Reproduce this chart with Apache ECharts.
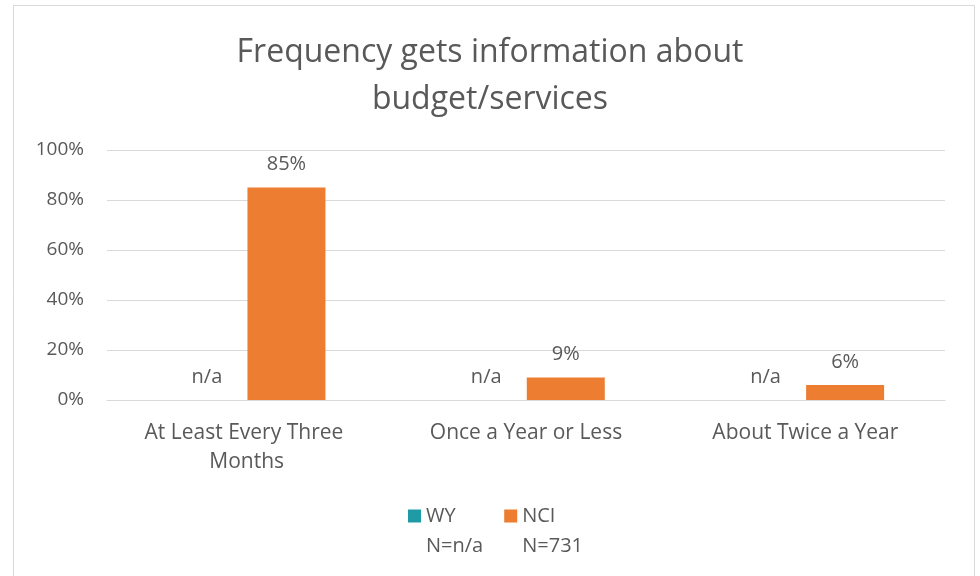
<!DOCTYPE html>
<html>
<head>
<meta charset="utf-8">
<script src="https://cdn.jsdelivr.net/npm/echarts@6/dist/echarts.min.js"></script>
<style>
html,body{margin:0;padding:0;background:#fff;}
#chart{width:980px;height:576px;}
</style>
</head>
<body>
<div id="chart"></div>
<script>
const titleText = "Frequency gets information about\nbudget/services";
const categories = ["At Least Every Three Months", "Once a Year or Less", "About Twice a Year"];
const wyValues = [0, 0, 0];
const wyLabels = ["n/a", "n/a", "n/a"];
const nciValues = [85, 9, 6];
const seriesNames = ["WY", "NCI"];
const legendSub = {WY: "N=n/a", NCI: "N=731"};
const yTicks = [0, 20, 40, 60, 80, 100];

const FONT = "Open Sans";
const TXT = "#595959";
const chart = echarts.init(document.getElementById('chart'), null, {renderer: 'canvas'});
chart.setOption({
  backgroundColor: '#ffffff',
  animation: false,
  graphic: [{
    type: 'rect', shape: {x: 13.5, y: 5.5, width: 961, height: 600},
    style: {fill: 'none', stroke: '#d9d9d9', lineWidth: 1}, silent: true, z: -1
  }],
  title: {
    text: titleText, left: 'center', top: 24,
    textStyle: {fontFamily: FONT, fontSize: 32, fontWeight: 'normal', color: TXT, lineHeight: 47}
  },
  legend: {
    left: 403, top: 466, itemWidth: 13, itemHeight: 13, itemGap: 21,
    icon: 'rect',
    data: seriesNames,
    formatter: n => " \n" + n + "\n" + legendSub[n],
    textStyle: {fontFamily: FONT, fontSize: 20, color: TXT, lineHeight: 30}
  },
  grid: {left: 107, right: 35, top: 150, bottom: 176, containLabel: false},
  xAxis: {
    type: 'category', data: categories,
    axisLine: {lineStyle: {color: '#d9d9d9', width: 1}},
    axisTick: {show: false},
    axisLabel: {fontFamily: FONT, fontSize: 21, color: TXT, margin: 19, lineHeight: 29,
      width: 250, overflow: 'break', interval: 0}
  },
  yAxis: {
    type: 'value', min: 0, max: 100, interval: 20,
    axisLabel: {fontFamily: FONT, fontSize: 19, color: TXT, margin: 23, formatter: v => v + '%'},
    splitLine: {lineStyle: {color: '#d9d9d9', width: 1}},
    axisLine: {show: false}, axisTick: {show: false}
  },
  series: [
    {
      name: 'WY', type: 'bar', data: wyValues, barWidth: 78, barGap: '2%',
      itemStyle: {color: '#1F9BA6'},
      label: {show: true, position: 'top', distance: 13, fontFamily: FONT, fontSize: 20, color: TXT,
        formatter: p => wyLabels[p.dataIndex]}
    },
    {
      name: 'NCI', type: 'bar', data: nciValues, barWidth: 78, barGap: '2%',
      itemStyle: {color: '#ED7D31'},
      label: {show: true, position: 'top', distance: 13, fontFamily: FONT, fontSize: 20, color: TXT,
        formatter: p => p.value + '%'}
    }
  ]
});
</script>
</body>
</html>
